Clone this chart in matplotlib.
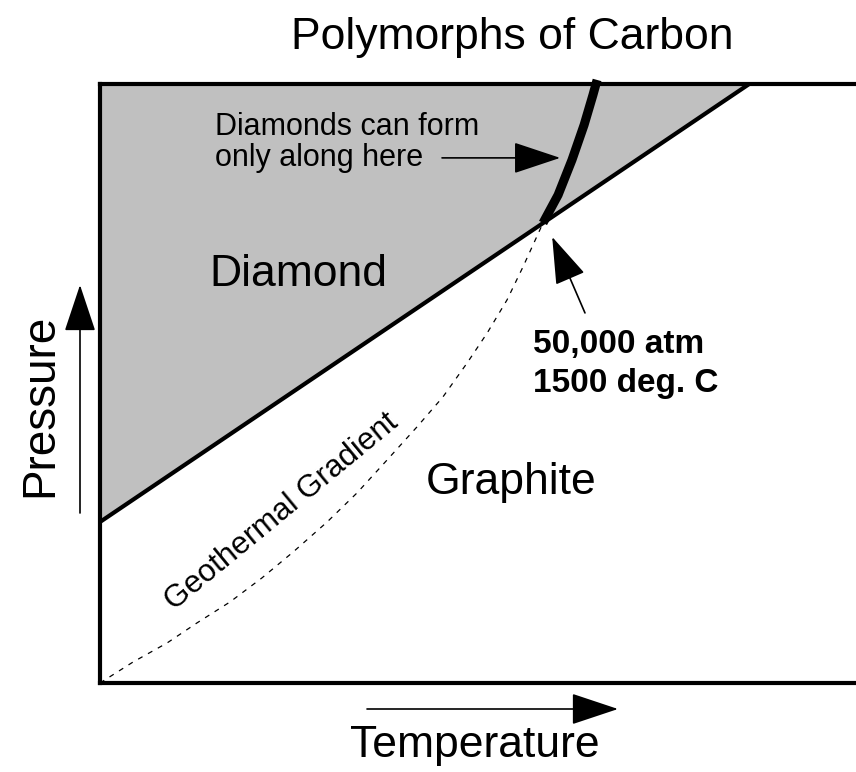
import numpy as np
import matplotlib
matplotlib.use("Agg")
import matplotlib.pyplot as plt

plt.rcParams["font.family"] = ["Liberation Sans", "DejaVu Sans"]

# phase boundary graphite / diamond (temperature deg C, pressure atm)
T_boundary = [0, 2198]
P_boundary = [17500, 65100]

# thick "diamonds form here" curve
T_growth = [1500, 1551, 1598, 1639, 1669, 1683]
P_growth = [50000, 53040, 56850, 60650, 63910, 65540]

# geothermal gradient (dashed)
T_geo = [0, 112, 227, 328, 440, 548, 654, 769, 870, 972, 1073, 1161, 1243,
         1311, 1378, 1432, 1500]
P_geo = [0, 2283, 4348, 6522, 8804, 11413, 14239, 17500, 20652, 24239, 27826,
         31087, 34783, 38043, 41630, 45217, 50000]

T_max, P_max = 2607, 65100

W, H = 856, 772
fig = plt.figure(figsize=(W / 100, H / 100), dpi=100)
ax = fig.add_axes([100 / W, 89 / H, 770 / W, 599 / H])
ax.set_xlim(0, T_max)
ax.set_ylim(0, P_max)
ax.set_xticks([])
ax.set_yticks([])
for s in ax.spines.values():
    s.set_linewidth(3)

# diamond field
Tf = np.array(T_boundary)
ax.fill_between(Tf, P_boundary, P_max, color="#c0c0c0", lw=0)
ax.plot(T_boundary, P_boundary, color="k", lw=3)
ax.plot(T_geo, P_geo, color="k", lw=0.9, dashes=(4, 5))
ax.plot(T_growth, P_growth, color="k", lw=6.5, solid_capstyle="butt",
        solid_joinstyle="round", clip_on=False)

head = "-|>,head_length=0.6,head_width=0.2"
arr = dict(arrowstyle=head, mutation_scale=50, color="k", lw=1.2,
           shrinkA=0, shrinkB=0)

ax.text(670, 44350, "Diamond", fontsize=32, ha="center", va="center")
ax.text(1392, 21740, "Graphite", fontsize=32, ha="center", va="center")
ax.text(389, 58700, "Diamonds can form\nonly along here", fontsize=22,
        ha="left", va="center", linespacing=1.05)
ax.annotate("", xy=(1558, 57070), xytext=(1158, 57070), arrowprops=arr)
ax.text(1466, 36740, "50,000 atm", fontsize=24, fontweight="bold",
        ha="left", va="center")
ax.text(1466, 32500, "1500 deg. C", fontsize=24, fontweight="bold",
        ha="left", va="center")
ax.annotate("", xy=(1531, 48480), xytext=(1642, 40220), arrowprops=arr)
ax.text(616, 18590, "Geothermal Gradient", fontsize=22.5, rotation=39.5,
        ha="center", va="center", rotation_mode="anchor")

# title and axis labels
fig.text(512 / W, 1 - 37 / H, "Polymorphs of Carbon", fontsize=32,
         ha="center", va="center")
fig.text(475 / W, 1 - 745 / H, "Temperature", fontsize=32,
         ha="center", va="center")
fig.text(40 / W, 1 - 405 / H, "Pressure", fontsize=33, rotation=90,
         ha="center", va="center")
fig.add_artist(matplotlib.patches.FancyArrowPatch(
    (367 / W, 1 - 709 / H), (618 / W, 1 - 709 / H),
    transform=fig.transFigure, **arr))
fig.add_artist(matplotlib.patches.FancyArrowPatch(
    (80 / W, 1 - 513 / H), (80 / W, 1 - 285 / H),
    transform=fig.transFigure, **arr))

fig.savefig("out.png", dpi=100, facecolor="white")
